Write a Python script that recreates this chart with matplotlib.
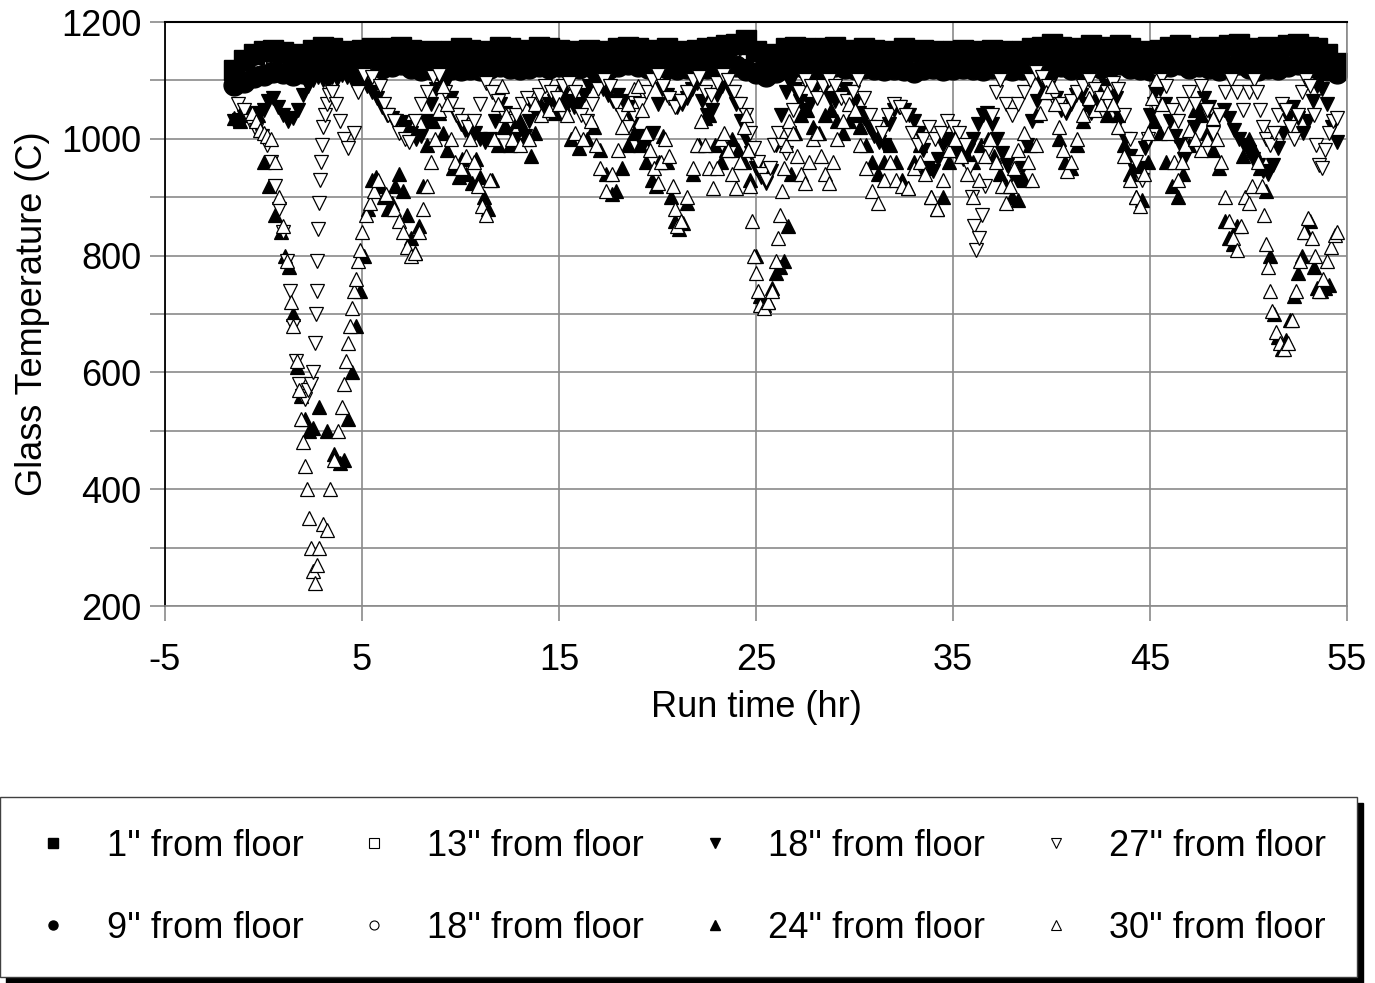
import matplotlib.pyplot as plt
from matplotlib.lines import Line2D
from matplotlib.patches import Rectangle

plt.rcParams['font.family'] = ['Liberation Sans', 'DejaVu Sans']
plt.rcParams['axes.unicode_minus'] = False

# run time (hr) of the thermocouple band readings
band_hr = [-1.5, -1.0, -0.5, 0.0, 0.5, 1.0, 1.5, 2.0, 2.5, 3.0,
           3.5, 4.0, 4.5, 5.0, 5.5, 6.0, 6.5, 7.0, 7.5, 8.0,
           8.5, 9.0, 9.5, 10.0, 10.5, 11.0, 11.5, 12.0, 12.5, 13.0,
           13.5, 14.0, 14.5, 15.0, 15.5, 16.0, 16.5, 17.0, 17.5, 18.0,
           18.5, 19.0, 19.5, 20.0, 20.5, 21.0, 21.5, 22.0, 22.5, 23.0,
           23.5, 24.0, 24.5, 25.0, 25.5, 26.0, 26.5, 27.0, 27.5, 28.0,
           28.5, 29.0, 29.5, 30.0, 30.5, 31.0, 31.5, 32.0, 32.5, 33.0,
           33.5, 34.0, 34.5, 35.0, 35.5, 36.0, 36.5, 37.0, 37.5, 38.0,
           38.5, 39.0, 39.5, 40.0, 40.5, 41.0, 41.5, 42.0, 42.5, 43.0,
           43.5, 44.0, 44.5, 45.0, 45.5, 46.0, 46.5, 47.0, 47.5, 48.0,
           48.5, 49.0, 49.5, 50.0, 50.5, 51.0, 51.5, 52.0, 52.5, 53.0,
           53.5, 54.0, 54.5]

temp_1in = [1118, 1135, 1145, 1150, 1152, 1148, 1140, 1145, 1152, 1158,
            1155, 1150, 1148, 1152, 1155, 1150, 1156, 1158, 1152, 1148,
            1150, 1145, 1150, 1155, 1152, 1148, 1150, 1157, 1155, 1150,
            1152, 1158, 1155, 1152, 1150, 1148, 1152, 1150, 1148, 1155,
            1158, 1155, 1150, 1152, 1155, 1150, 1148, 1152, 1155, 1158,
            1160, 1162, 1170, 1150, 1135, 1145, 1155, 1158, 1155, 1152,
            1155, 1158, 1152, 1150, 1155, 1152, 1148, 1150, 1155, 1150,
            1152, 1150, 1148, 1150, 1152, 1150, 1148, 1152, 1150, 1148,
            1150, 1155, 1158, 1162, 1158, 1152, 1155, 1160, 1155, 1158,
            1160, 1155, 1150, 1148, 1152, 1158, 1160, 1152, 1155, 1158,
            1150, 1160, 1162, 1155, 1150, 1158, 1150, 1160, 1162, 1158,
            1155, 1145, 1130]

temp_9in = [1092, 1098, 1105, 1110, 1115, 1112, 1110, 1112, 1118, 1122,
            1125, 1122, 1120, 1122, 1125, 1122, 1125, 1128, 1122, 1118,
            1120, 1118, 1120, 1118, 1120, 1118, 1122, 1125, 1122, 1120,
            1122, 1125, 1122, 1125, 1120, 1122, 1125, 1122, 1120, 1125,
            1128, 1125, 1122, 1125, 1122, 1120, 1122, 1125, 1122, 1125,
            1128, 1125, 1118, 1112, 1108, 1115, 1122, 1125, 1122, 1120,
            1122, 1125, 1122, 1120, 1122, 1120, 1118, 1120, 1118, 1115,
            1120, 1122, 1118, 1120, 1122, 1120, 1118, 1122, 1120, 1118,
            1120, 1122, 1125, 1128, 1125, 1120, 1122, 1125, 1122, 1125,
            1128, 1122, 1120, 1118, 1122, 1125, 1128, 1122, 1125, 1122,
            1118, 1125, 1128, 1122, 1118, 1122, 1120, 1125, 1128, 1125,
            1122, 1118, 1112]

# hourly readings (every other band time)
temp_13in = [1105, 1125, 1135, 1132, 1138, 1140, 1135, 1140, 1138, 1135,
             1135, 1140, 1138, 1140, 1135, 1136, 1138, 1140, 1138, 1135,
             1138, 1140, 1138, 1140, 1142, 1145, 1148, 1122, 1132, 1138,
             1138, 1136, 1135, 1136, 1135, 1135, 1134, 1136, 1140, 1140,
             1138, 1142, 1140, 1135, 1138, 1142, 1138, 1135, 1145, 1136,
             1138, 1140, 1142, 1140, 1138, 1130, 1120]

temp_18in_c = [1098, 1115, 1125, 1122, 1128, 1130, 1128, 1130, 1128, 1126,
               1128, 1130, 1128, 1130, 1126, 1128, 1130, 1128, 1126, 1128,
               1130, 1128, 1130, 1132, 1135, 1138, 1136, 1115, 1125, 1130,
               1128, 1126, 1128, 1126, 1125, 1128, 1126, 1128, 1130, 1132,
               1130, 1132, 1130, 1128, 1130, 1132, 1130, 1128, 1134, 1128,
               1130, 1132, 1130, 1132, 1130, 1125, 1115]

# (run time hr, temperature C) readings of the upper thermocouples
pts_18in = [(-1.5, 1030), (-1.25, 1032), (-1.0, 1038), (-0.75, 1040), (-0.5, 1045), (-0.25, 1042), (0.0, 1050),
            (0.25, 1065), (0.5, 1070), (0.75, 1055), (1.0, 1040), (1.25, 1030), (1.5, 1035), (1.75, 1050), (2.0, 1075),
            (2.25, 1090), (2.5, 1100), (2.75, 1105), (3.0, 1100), (3.25, 1098), (3.5, 1105), (3.75, 1102), (4.0, 1110),
            (4.25, 1105), (4.5, 1100), (4.75, 1095), (5.0, 1098), (5.25, 1090), (5.5, 1080), (5.75, 1070), (6.0, 1055),
            (6.25, 1040), (6.5, 1035), (6.75, 1030), (7.0, 1028), (7.25, 1020), (7.5, 1010), (7.75, 1000), (8.0, 1005),
            (8.25, 1030), (8.5, 1060), (8.75, 1085), (9.0, 1100), (9.25, 1095), (9.5, 1070), (9.75, 1040), (10.0, 1025),
            (10.25, 1015), (10.5, 1005), (10.75, 1010), (11.0, 1000), (11.25, 995), (11.5, 1000), (11.75, 1030), (12.0, 1060),
            (12.25, 1045), (12.5, 1020), (12.75, 1000), (13.0, 990), (13.25, 1005), (13.5, 1030), (13.75, 1050), (14.0, 1045),
            (14.25, 1050), (14.5, 1060), (14.75, 1065), (15.0, 1070), (15.25, 1080), (15.5, 1065), (15.75, 1055), (16.0, 1060),
            (16.25, 1075), (16.5, 1090), (16.75, 1100), (17.0, 1095), (17.25, 1085), (17.5, 1075), (17.75, 1065), (18.0, 1075),
            (18.25, 1065), (18.5, 1055), (18.75, 1030), (19.0, 1005), (19.25, 990), (19.5, 1000), (19.75, 1010), (20.0, 1060),
            (20.25, 1085), (20.5, 1075), (20.75, 1065), (21.0, 1055), (21.25, 1060), (21.5, 1070), (21.75, 1085), (22.0, 1095),
            (22.25, 1065), (22.5, 1040), (22.75, 1050), (23.0, 1075), (23.25, 1090), (23.5, 1100), (23.75, 1080), (24.0, 1060),
            (24.25, 1030), (24.5, 1000), (24.75, 975), (25.0, 950), (25.25, 935), (25.5, 925), (25.75, 945), (26.0, 990),
            (26.25, 1040), (26.5, 1080), (26.75, 1095), (27.0, 1085), (27.25, 1065), (27.5, 1050), (27.75, 1060), (28.0, 1085),
            (28.25, 1100), (28.5, 1090), (28.75, 1070), (29.0, 1065), (29.25, 1075), (29.5, 1085), (29.75, 1080), (30.0, 1065),
            (30.25, 1045), (30.5, 1035), (30.75, 1020), (31.0, 1005), (31.25, 995), (31.5, 990), (31.75, 1025), (32.0, 1050),
            (32.25, 1055), (32.5, 1050), (32.75, 1040), (33.0, 1030), (33.25, 1010), (33.5, 980), (33.75, 950), (34.0, 945),
            (34.25, 965), (34.5, 990), (34.75, 1000), (35.0, 985), (35.25, 970), (35.5, 965), (35.75, 980), (36.0, 1000),
            (36.25, 1025), (36.5, 1040), (36.75, 1045), (37.0, 1025), (37.25, 1000), (37.5, 975), (37.75, 955), (38.0, 940),
            (38.25, 930), (38.5, 950), (38.75, 990), (39.0, 1030), (39.25, 1065), (39.5, 1095), (39.75, 1110), (40.0, 1100),
            (40.25, 1070), (40.5, 1050), (40.75, 1045), (41.0, 1060), (41.25, 1075), (41.5, 1075), (41.75, 1060), (42.0, 1045),
            (42.25, 1055), (42.5, 1080), (42.75, 1090), (43.0, 1080), (43.25, 1070), (43.5, 1035), (43.75, 1000), (44.0, 970),
            (44.25, 945), (44.5, 950), (44.75, 985), (45.0, 1040), (45.25, 1080), (45.5, 1085), (45.75, 1060), (46.0, 1030),
            (46.25, 1005), (46.5, 990), (46.75, 965), (47.0, 985), (47.25, 1020), (47.5, 1050), (47.75, 1070), (48.0, 1055),
            (48.25, 1030), (48.5, 1040), (48.75, 1050), (49.0, 1035), (49.25, 1015), (49.5, 1000), (49.75, 990), (50.0, 978),
            (50.25, 965), (50.5, 955), (50.75, 945), (51.0, 940), (51.25, 955), (51.5, 985), (51.75, 1010), (52.0, 1035),
            (52.25, 1055), (52.5, 1035), (52.75, 1010), (53.0, 1030), (53.25, 1065), (53.5, 1090), (53.75, 1085), (54.0, 1060),
            (54.25, 1020), (54.5, 995)]

pts_24in = [(-1.5, 1035), (-1.2, 1030), (-0.9, 1040), (-0.6, 1045), (-0.3, 1040),
            (0.0, 960), (0.3, 920), (0.6, 870), (0.9, 840), (1.1, 800),
            (1.3, 780), (1.5, 700), (1.7, 610), (1.9, 560), (2.1, 520),
            (2.3, 500), (2.5, 505), (2.8, 540), (3.2, 500), (3.6, 460),
            (3.9, 445), (4.1, 450), (4.3, 520), (4.5, 600), (4.7, 680),
            (4.9, 740), (5.1, 800), (5.3, 880), (5.5, 930), (5.7, 935),
            (5.9, 920), (6.1, 900), (6.3, 880), (6.5, 890), (6.7, 920),
            (6.9, 940), (7.1, 910), (7.3, 870), (7.5, 830), (7.7, 805),
            (7.9, 850), (8.1, 920), (8.3, 990), (8.6, 1030), (8.9, 1045),
            (9.1, 1010), (9.3, 980), (9.6, 950), (9.9, 935), (10.1, 965),
            (10.3, 940), (10.6, 925), (10.8, 965), (11.0, 935), (11.2, 900),
            (11.4, 880), (11.6, 930), (11.9, 990), (12.2, 1020), (12.5, 990),
            (12.8, 1000), (13.0, 1030), (13.3, 1000), (13.6, 970), (13.8, 1010),
            (14.0, 1065), (14.4, 1050), (14.8, 1045), (15.2, 1060), (15.6, 1000),
            (16.0, 985), (16.4, 1000), (16.8, 1020), (17.1, 980), (17.4, 940),
            (17.7, 905), (17.9, 910), (18.2, 950), (18.5, 990), (18.8, 1010),
            (19.1, 990), (19.4, 960), (19.7, 930), (19.9, 920), (20.1, 960),
            (20.3, 1005), (20.5, 960), (20.7, 900), (20.9, 860), (21.1, 845),
            (21.3, 855), (21.5, 890), (21.8, 940), (22.1, 990), (22.4, 1035),
            (22.6, 1040), (22.9, 990), (23.2, 960), (23.5, 980), (23.8, 1000),
            (24.1, 980), (24.4, 960), (24.7, 930), (25.0, 800), (25.2, 730),
            (25.4, 715), (25.6, 720), (25.8, 745), (26.0, 770), (26.2, 780),
            (26.4, 790), (26.6, 850), (26.8, 940), (27.0, 1010), (27.3, 1040),
            (27.6, 1050), (27.9, 1020), (28.2, 1010), (28.5, 1040), (28.8, 1050),
            (29.1, 1030), (29.4, 1010), (29.7, 1030), (30.0, 1040), (30.3, 1020),
            (30.6, 990), (30.9, 960), (31.2, 940), (31.5, 960), (31.8, 990),
            (32.1, 960), (32.4, 930), (32.7, 915), (33.0, 960), (33.3, 990),
            (33.6, 950), (33.9, 900), (34.2, 880), (34.5, 900), (34.8, 960),
            (35.1, 980), (35.4, 990), (35.7, 970), (36.0, 960), (36.4, 990),
            (36.8, 1000), (37.1, 970), (37.4, 940), (37.7, 920), (38.0, 900),
            (38.3, 895), (38.6, 930), (38.9, 990), (39.2, 1040), (39.5, 1080),
            (39.8, 1100), (40.1, 1080), (40.4, 1000), (40.7, 960), (41.0, 950),
            (41.3, 990), (41.6, 1030), (41.9, 1060), (42.2, 1070), (42.5, 1060),
            (42.8, 1040), (43.1, 1060), (43.4, 1040), (43.7, 990), (44.0, 940),
            (44.3, 900), (44.6, 895), (44.9, 960), (45.2, 1030), (45.5, 1010),
            (45.8, 960), (46.1, 920), (46.4, 900), (46.7, 940), (47.0, 990),
            (47.3, 1050), (47.6, 1040), (47.9, 1010), (48.2, 980), (48.5, 950),
            (48.8, 860), (49.0, 830), (49.2, 820), (49.4, 850), (49.7, 970),
            (50.0, 1000), (50.3, 980), (50.6, 950), (50.9, 910), (51.1, 800),
            (51.3, 700), (51.5, 660), (51.7, 640), (51.9, 655), (52.1, 690),
            (52.3, 730), (52.5, 770), (52.7, 800), (52.9, 840), (53.1, 860),
            (53.3, 780), (53.5, 745), (53.7, 740), (53.9, 745), (54.1, 750)]

pts_27in = [(-1.3, 1060), (-1.0, 1050), (-0.7, 1030), (-0.4, 1015), (-0.1, 1005),
            (0.2, 990), (0.4, 960), (0.6, 920), (0.8, 880), (1.0, 840),
            (1.2, 790), (1.35, 740), (1.5, 680), (1.65, 620), (1.8, 580),
            (1.95, 560), (2.1, 555), (2.25, 570), (2.4, 580), (2.5, 600),
            (2.6, 650), (2.65, 700), (2.7, 740), (2.72, 790), (2.75, 845),
            (2.8, 890), (2.85, 930), (2.9, 960), (2.95, 990), (3.0, 1020),
            (3.1, 1040), (3.2, 1060), (3.35, 1075), (3.5, 1080), (3.7, 1060),
            (3.9, 1030), (4.1, 1000), (4.3, 985), (4.6, 1010), (4.8, 1080),
            (5.1, 1110), (5.5, 1105), (5.9, 1090), (6.1, 1060), (6.3, 1040),
            (6.6, 1030), (6.9, 1010), (7.2, 1000), (7.4, 995), (7.7, 1030),
            (8.0, 1060), (8.3, 1080), (8.6, 1105), (8.9, 1110), (9.2, 1080),
            (9.5, 1060), (9.8, 1040), (10.1, 1030), (10.4, 1020), (10.7, 1030),
            (11.0, 1060), (11.3, 1095), (11.6, 1080), (11.9, 1065), (12.2, 1040),
            (12.5, 1030), (12.8, 1040), (13.1, 1060), (13.4, 1070), (13.7, 1060),
            (14.0, 1075), (14.3, 1090), (14.6, 1080), (14.9, 1070), (15.2, 1090),
            (15.5, 1095), (15.8, 1080), (16.1, 1040), (16.4, 1030), (16.7, 1060),
            (17.0, 1085), (17.3, 1100), (17.6, 1090), (17.9, 1060), (18.2, 1040),
            (18.5, 1020), (18.8, 1040), (19.1, 1060), (19.4, 1080), (19.7, 1100),
            (20.0, 1110), (20.3, 1090), (20.6, 1070), (20.9, 1055), (21.2, 1065),
            (21.5, 1080), (21.8, 1100), (22.1, 1105), (22.4, 1080), (22.7, 1075),
            (23.0, 1095), (23.3, 1110), (23.6, 1100), (23.9, 1080), (24.2, 1060),
            (24.5, 1040), (24.7, 1010), (24.9, 985), (25.1, 960), (25.3, 940),
            (25.5, 930), (25.7, 950), (25.9, 990), (26.1, 1010), (26.3, 990),
            (26.5, 975), (26.7, 1010), (26.9, 1050), (27.2, 1080), (27.5, 1100),
            (27.8, 1090), (28.1, 1070), (28.4, 1090), (28.7, 1100), (29.0, 1090),
            (29.3, 1070), (29.6, 1065), (29.9, 1080), (30.2, 1100), (30.5, 1070),
            (30.8, 1040), (31.1, 1020), (31.4, 1010), (31.7, 1040), (32.0, 1060),
            (32.3, 1055), (32.6, 1040), (32.9, 1010), (33.2, 990), (33.5, 1000),
            (33.8, 1020), (34.1, 1000), (34.4, 1010), (34.7, 1030), (35.0, 1020),
            (35.3, 1010), (35.6, 990), (35.8, 950), (35.95, 900), (36.05, 850),
            (36.15, 810), (36.3, 830), (36.45, 870), (36.6, 920), (36.8, 980),
            (37.0, 1040), (37.2, 1080), (37.4, 1100), (37.7, 1060), (38.0, 1040),
            (38.3, 1060), (38.6, 1080), (38.9, 1100), (39.2, 1115), (39.5, 1105),
            (39.8, 1090), (40.1, 1070), (40.4, 1060), (40.7, 1050), (41.0, 1065),
            (41.3, 1080), (41.6, 1090), (41.9, 1100), (42.2, 1085), (42.5, 1070),
            (42.8, 1080), (43.1, 1095), (43.4, 1085), (43.7, 1040), (44.0, 1000),
            (44.3, 960), (44.6, 930), (44.9, 1000), (45.2, 1060), (45.5, 1100),
            (45.8, 1090), (46.1, 1050), (46.4, 1030), (46.7, 1060), (47.0, 1080),
            (47.3, 1060), (47.6, 1090), (47.9, 1050), (48.2, 1010), (48.5, 1040),
            (48.8, 1080), (49.1, 1100), (49.4, 1080), (49.7, 1050), (50.0, 1080),
            (50.3, 1100), (50.45, 1080), (50.6, 1050), (50.75, 1020), (50.9, 1000),
            (51.1, 990), (51.3, 1010), (51.5, 1040), (51.7, 1060), (51.9, 1050),
            (52.1, 1020), (52.3, 1000), (52.5, 1040), (52.7, 1080), (52.9, 1100),
            (53.1, 1090), (53.3, 1040), (53.45, 990), (53.6, 955), (53.75, 950),
            (53.9, 980), (54.1, 1010), (54.3, 1030), (54.5, 1035)]

pts_30in = [(-0.6, 1045), (-0.4, 1030), (-0.2, 1015), (0.0, 1010), (0.2, 1005),
            (0.4, 1000), (0.6, 960), (0.8, 900), (1.0, 850), (1.2, 790),
            (1.4, 720), (1.5, 680), (1.7, 620), (1.8, 570), (1.9, 520),
            (2.0, 480), (2.1, 440), (2.2, 400), (2.3, 350), (2.4, 300),
            (2.5, 260), (2.6, 240), (2.7, 270), (2.8, 300), (3.0, 340),
            (3.2, 330), (3.4, 400), (3.6, 450), (3.8, 500), (4.0, 540),
            (4.1, 580), (4.2, 620), (4.3, 650), (4.4, 680), (4.5, 710),
            (4.6, 740), (4.7, 760), (4.8, 790), (4.9, 810), (5.0, 840),
            (5.2, 870), (5.4, 890), (5.6, 910), (5.8, 930), (6.2, 905),
            (6.6, 880), (6.9, 860), (7.1, 840), (7.3, 815), (7.5, 800),
            (7.7, 805), (7.9, 840), (8.1, 880), (8.3, 920), (8.5, 960),
            (8.7, 1000), (8.9, 1050), (9.1, 1090), (9.3, 1060), (9.5, 1000),
            (9.7, 960), (10.0, 950), (10.3, 970), (10.5, 1000), (10.7, 960),
            (10.9, 920), (11.1, 885), (11.3, 870), (11.5, 930), (11.7, 1000),
            (11.9, 1060), (12.1, 1090), (12.3, 1040), (12.6, 1000), (13.0, 990),
            (13.5, 1000), (13.8, 1060), (14.1, 1040), (14.5, 1050), (15.0, 1060),
            (15.4, 1040), (15.8, 1010), (16.2, 1000), (16.6, 1030), (16.9, 990),
            (17.1, 950), (17.4, 910), (17.7, 940), (18.0, 980), (18.2, 1020),
            (18.5, 1060), (18.8, 1085), (19.0, 1090), (19.2, 1050), (19.4, 1010),
            (19.6, 980), (19.8, 950), (20.0, 925), (20.2, 960), (20.4, 1000),
            (20.6, 970), (20.8, 920), (20.9, 880), (21.0, 850), (21.2, 860),
            (21.5, 900), (21.8, 950), (22.0, 990), (22.2, 1030), (22.4, 990),
            (22.6, 950), (22.8, 915), (23.0, 950), (23.2, 1000), (23.4, 1010),
            (23.6, 980), (23.8, 940), (24.0, 915), (24.2, 960), (24.4, 1020),
            (24.5, 1040), (24.6, 980), (24.7, 920), (24.8, 860), (24.9, 800),
            (25.0, 770), (25.1, 740), (25.2, 715), (25.4, 710), (25.6, 720),
            (25.8, 740), (26.0, 790), (26.1, 830), (26.2, 870), (26.3, 910),
            (26.4, 950), (26.5, 990), (26.7, 1030), (26.9, 1010), (27.1, 970),
            (27.3, 940), (27.5, 925), (27.7, 960), (27.9, 1000), (28.1, 1010),
            (28.3, 970), (28.5, 940), (28.7, 925), (28.9, 960), (29.1, 1000),
            (29.4, 1030), (29.7, 1060), (30.0, 1050), (30.3, 990), (30.6, 950),
            (30.9, 910), (31.2, 890), (31.5, 930), (31.8, 960), (32.1, 930),
            (32.4, 920), (32.7, 915), (33.0, 950), (33.3, 960), (33.6, 940),
            (33.9, 900), (34.2, 880), (34.5, 930), (34.8, 980), (35.1, 1000),
            (35.4, 970), (35.7, 940), (36.0, 900), (36.3, 930), (36.6, 970),
            (36.9, 1000), (37.2, 960), (37.5, 920), (37.7, 890), (37.9, 920),
            (38.1, 950), (38.3, 980), (38.6, 1010), (38.8, 960), (39.0, 930),
            (39.2, 990), (39.4, 1045), (39.7, 1080), (40.0, 1090), (40.2, 1060),
            (40.4, 1020), (40.6, 980), (40.8, 945), (41.0, 960), (41.3, 1000),
            (41.6, 1040), (41.9, 1070), (42.2, 1050), (42.5, 1060), (42.8, 1080),
            (43.1, 1060), (43.4, 1020), (43.7, 970), (44.0, 930), (44.3, 900),
            (44.5, 885), (44.7, 940), (44.9, 1010), (45.1, 1070), (45.3, 1100),
            (45.6, 1060), (45.9, 1010), (46.2, 960), (46.4, 930), (46.6, 960),
            (46.8, 990), (47.0, 1015), (47.3, 1000), (47.6, 980), (47.9, 1000),
            (48.2, 1035), (48.4, 1000), (48.6, 960), (48.8, 900), (49.0, 860),
            (49.2, 830), (49.4, 810), (49.6, 850), (49.8, 900), (50.0, 890),
            (50.2, 920), (50.5, 960), (50.7, 920), (50.8, 870), (50.9, 820),
            (51.0, 780), (51.1, 740), (51.2, 705), (51.4, 670), (51.6, 650),
            (51.8, 640), (52.0, 650), (52.2, 690), (52.4, 740), (52.6, 790),
            (52.8, 840), (53.0, 865), (53.2, 830), (53.4, 800), (53.6, 740),
            (53.8, 760), (54.0, 790), (54.2, 815), (54.4, 835), (54.5, 840)]

labels = ["1'' from floor", "9'' from floor", "13'' from floor", "18'' from floor",
          "18'' from floor", "24'' from floor", "27'' from floor", "30'' from floor"]

W, H = 1375, 983
fig = plt.figure(figsize=(W / 100, H / 100), dpi=100)
ax = fig.add_axes([165 / W, 1 - 606 / H, (1347 - 165) / W, (606 - 22) / H])

grey = '#8a8a8a'
mid_hr = band_hr[::2]

# band readings (lower thermocouples)
ax.plot(mid_hr, temp_13in, ls='none', marker='s', ms=10, mfc='none', mec='k', mew=0.8)
ax.plot(mid_hr, temp_18in_c, ls='none', marker='o', ms=10, mfc='none', mec='k', mew=0.8)
ax.plot(band_hr, temp_1in, ls='none', marker='s', ms=14, color='k')
ax.plot(band_hr, temp_9in, ls='none', marker='o', ms=15, color='k')

# upper thermocouples
for pts, mk, face in [(pts_18in, 'v', 'k'), (pts_24in, '^', 'k'),
                      (pts_27in, 'v', 'white'), (pts_30in, '^', 'white')]:
    hr, temp = zip(*pts)
    ax.plot(hr, temp, ls='none', marker=mk, ms=10.5, mfc=face, mec='k', mew=0.9)

ax.set_xlim(-5, 55)
ax.set_ylim(200, 1200)
ax.set_xticks(range(-5, 56, 10))
ax.set_yticks(range(200, 1201, 200))
ax.set_yticks(range(300, 1200, 200), minor=True)
ax.grid(True, which='both', color=grey, lw=1.2)
ax.set_axisbelow(True)
ax.tick_params(which='both', direction='out', length=11, width=1.2, color=grey,
               labelsize=26, pad=6)
ax.tick_params(axis='x', pad=16)
for side in ['bottom', 'right']:
    ax.spines[side].set_color(grey)
    ax.spines[side].set_linewidth(1.2)
ax.spines['top'].set_linewidth(1.5)
ax.spines['left'].set_linewidth(1.3)

ax.set_xlabel('Run time (hr)', fontsize=26, labelpad=8)
ax.set_ylabel('Glass Temperature (C)', fontsize=26, labelpad=8)

handles = [Line2D([], [], ls='none', marker='s', ms=6.5, color='k'),
           Line2D([], [], ls='none', marker='o', ms=6.5, color='k'),
           Line2D([], [], ls='none', marker='s', ms=6.5, mfc='white', mec='k', mew=0.8),
           Line2D([], [], ls='none', marker='o', ms=6.5, mfc='white', mec='k', mew=0.8),
           Line2D([], [], ls='none', marker='v', ms=7, color='k'),
           Line2D([], [], ls='none', marker='^', ms=7, color='k'),
           Line2D([], [], ls='none', marker='v', ms=7, mfc='white', mec='k', mew=0.8),
           Line2D([], [], ls='none', marker='^', ms=7, mfc='white', mec='k', mew=0.8)]

leg = fig.legend(handles, labels, ncol=4, loc='lower left',
                 bbox_to_anchor=(0, 6 / H, 1357 / W, 180 / H), mode='expand',
                 fontsize=26, fancybox=False, edgecolor='#404040', framealpha=1,
                 borderpad=0.87, labelspacing=1.3, handlelength=1.22,
                 handletextpad=0.86, borderaxespad=0)
leg.get_frame().set_linewidth(1.0)

fig.canvas.draw()
bb = leg.get_window_extent()
shadow = Rectangle(((bb.x0 + 6) / W, (bb.y0 - 6) / H), bb.width / W, bb.height / H,
                   transform=fig.transFigure, color='black', zorder=leg.get_zorder() - 1)
fig.add_artist(shadow)

fig.savefig('out.png', dpi=100)
